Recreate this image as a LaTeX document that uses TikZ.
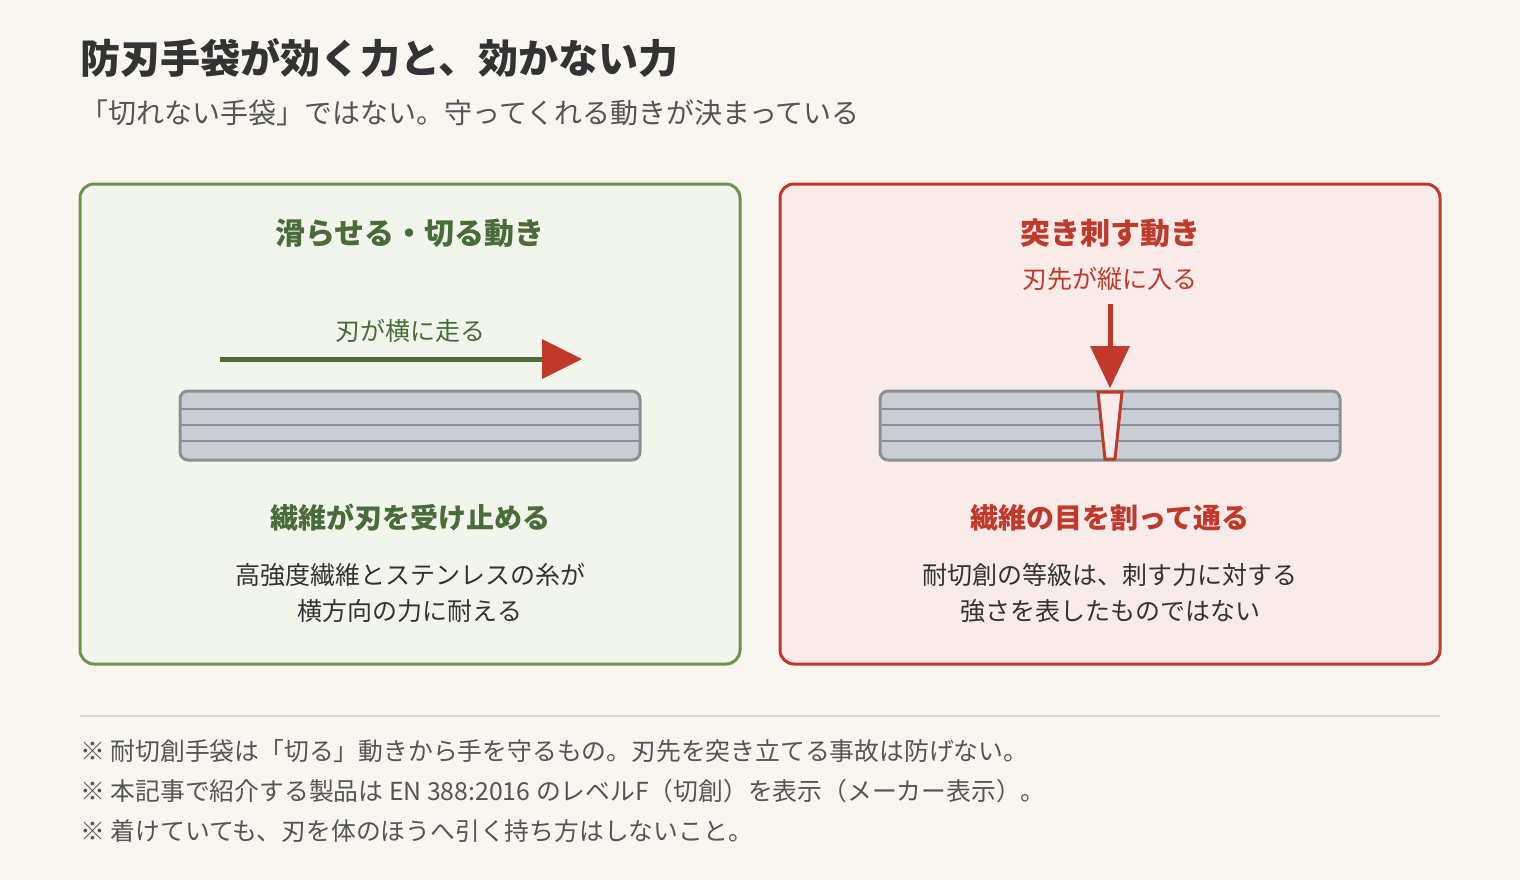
\documentclass[tikz,border=0pt]{standalone}
\usepackage{fontspec}
\setmainfont{Noto Sans CJK JP}
\begin{document}
\begin{tikzpicture}[x=0.5pt,y=-0.5pt,
 txt/.style={inner sep=0,font=\fontsize{12.5}{14}\selectfont,text=dark},
 ttl/.style={inner sep=0,font=\fontsize{15}{17}\selectfont\bfseries},
 hd/.style={inner sep=0,font=\fontsize{14}{17}\selectfont\bfseries},
 panel/.style={line width=1.5pt,rounded corners=7pt},
 bar/.style={fill=barfill,draw=bardraw,line width=1.5pt,rounded corners=4pt},
 fib/.style={draw=bardraw,line width=1pt}]
\definecolor{bg}{HTML}{F9F6F0}
\definecolor{dark}{HTML}{333333}
\definecolor{grn}{HTML}{4A6B3A}
\definecolor{gborder}{HTML}{6E9156}
\definecolor{gfill}{HTML}{F2F5EC}
\definecolor{red}{HTML}{C0392B}
\definecolor{rfill}{HTML}{F9EBE9}
\definecolor{barfill}{HTML}{C9CDD4}
\definecolor{bardraw}{HTML}{8C9096}
\definecolor{grey}{HTML}{555555}
\fill[bg] (0,0) rectangle (1520,880);
\useasboundingbox (0,0) rectangle (1520,880);
\node[anchor=west,inner sep=0,font=\fontsize{20}{24}\selectfont\bfseries,text=dark] (title) at (80,58) {防刃手袋が効く力と、効かない力};
\node[anchor=west,inner sep=0,font=\fontsize{14}{16}\selectfont,text=grey] (sub) at (80,113) {「切れない手袋」ではない。守ってくれる動きが決まっている};
% left panel
\draw[panel,draw=gborder,fill=gfill] (80,184) rectangle (740,664);
\node[ttl,text=grn] (lt) at (410,233) {滑らせる・切る動き};
\node[txt,text=grn] (ll) at (410,331) {刃が横に走る};
\coordinate (la) at (220,359);
\coordinate (lb) at (542,359);
\draw[grn,line width=2.5pt] (la) -- (lb);
\fill[red] (542,339) -- (582,359) -- (542,379) -- cycle;
\draw[bar] (180,391) rectangle (640,460);
\foreach \y in {409,425,441} \draw[fib] (181,\y) -- (639,\y);
\node[hd,text=grn] (lh) at (410,518) {繊維が刃を受け止める};
\node[txt,align=center,font=\fontsize{12.5}{18}\selectfont] (lx) at (410,593) {高強度繊維とステンレスの糸が\\横方向の力に耐える};
% right panel
\draw[panel,draw=red,fill=rfill] (780,184) rectangle (1440,664);
\node[ttl,text=red] (rt) at (1110,233) {突き刺す動き};
\node[txt,text=red] (rl) at (1110,279) {刃先が縦に入る};
\draw[bar] (880,391) rectangle (1340,460);
\foreach \y in {409,425,441} \draw[fib] (881,\y) -- (1339,\y);
\draw[red,fill=rfill,line width=1.5pt] (1098,392) -- (1122,392) -- (1115,459) -- (1105,459) -- cycle;
\coordinate (ra) at (1110,304);
\draw[red,line width=2.5pt] (ra) -- (1110,348);
\fill[red] (1090,346) -- (1130,346) -- (1110,388) -- cycle;
\node[hd,text=red] (rh) at (1110,518) {繊維の目を割って通る};
\node[txt,align=center,font=\fontsize{12.5}{18}\selectfont] (rx) at (1110,593) {耐切創の等級は、刺す力に対する\\強さを表したものではない};
% footer
\draw[draw=black!15,line width=0.8pt] (80,716) -- (1440,716);
\node[txt,anchor=west,text=grey,font=\fontsize{12.4}{14}\selectfont] (n1) at (80,751) {※ 耐切創手袋は「切る」動きから手を守るもの。刃先を突き立てる事故は防げない。};
\node[txt,anchor=west,text=grey,font=\fontsize{12.4}{14}\selectfont] (n2) at (80,791) {※ 本記事で紹介する製品は EN 388:2016 のレベルF（切創）を表示（メーカー表示）。};
\node[txt,anchor=west,text=grey,font=\fontsize{12.4}{14}\selectfont] (n3) at (80,831) {※ 着けていても、刃を体のほうへ引く持ち方はしないこと。};
\end{tikzpicture}
\end{document}
